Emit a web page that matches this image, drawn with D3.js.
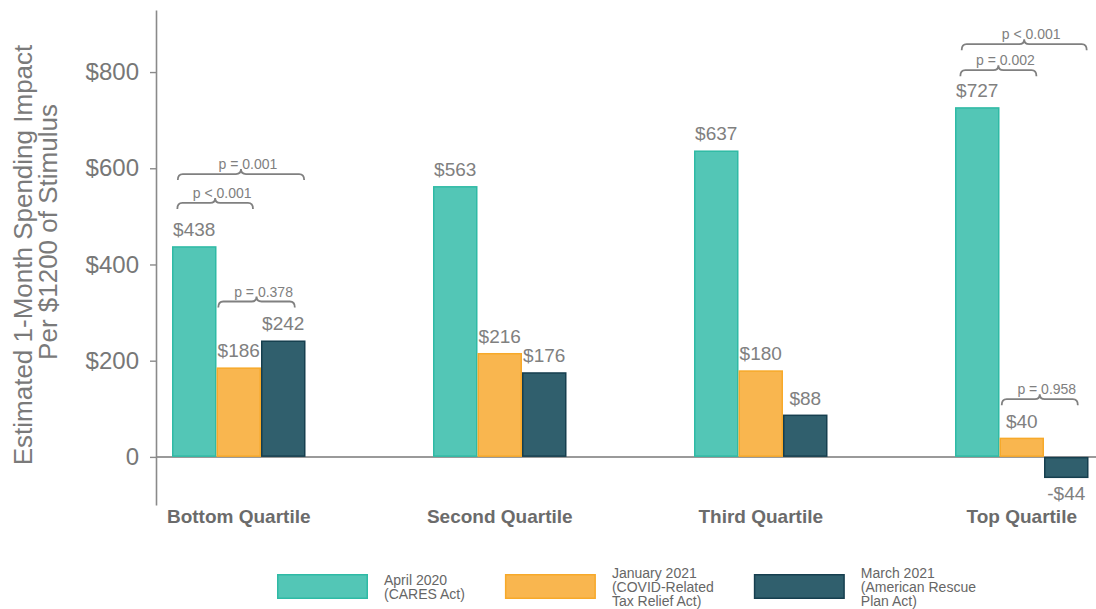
<!DOCTYPE html>
<html>
<head>
<meta charset="utf-8">
<script src="https://cdn.jsdelivr.net/npm/d3@7"></script>
<style>
  html, body { margin: 0; padding: 0; background: #fff; }
  svg { display: block; font-family: "Liberation Sans", Arial, Helvetica, sans-serif; }
</style>
</head>
<body>
<svg id="chart" width="1096" height="609"></svg>
<script>
// ---- data ----
const categories = ["Bottom Quartile", "Second Quartile", "Third Quartile", "Top Quartile"];
const seriesNames = ["April 2020 (CARES Act)", "January 2021 (COVID-Related Tax Relief Act)", "March 2021 (American Rescue Plan Act)"];
const april2020 = [438, 563, 637, 727];
const january2021 = [186, 216, 180, 40];
const march2021 = [242, 176, 88, -44];
const yTicks = [0, 200, 400, 600, 800];
const legendLines = [["April 2020", "(CARES Act)"], ["January 2021", "(COVID-Related", "Tax Relief Act)"], ["March 2021", "(American Rescue", "Plan Act)"]];
// significance brackets: category, start/end in bar units within the group, height in $ units, label
const bracketCats = ["Bottom Quartile", "Bottom Quartile", "Bottom Quartile", "Top Quartile", "Top Quartile", "Top Quartile"];
const bracketFrom = [0.12, 0.13, 1.04, 0.12, 0.15, 1.05];
const bracketTo = [1.82, 2.97, 2.76, 1.83, 2.96, 2.76];
const bracketLevel = [528, 588, 323, 804, 858, 120];
const bracketLabels = ["p < 0.001", "p = 0.001", "p = 0.378", "p = 0.002", "p < 0.001", "p = 0.958"];

const seriesValues = [april2020, january2021, march2021];
const fills = ["#53c6b6", "#f9b64f", "#305f6d"];
const strokes = ["#2fbaa5", "#f7a92a", "#163f4f"];

const svg = d3.select("#chart");

// ---- scales ----
const y = d3.scaleLinear().domain([-100, 929]).range([505, 10]);
const x = d3.scalePoint().domain(categories).range([238.75, 1021.75]);
const groupWidth = 133.5;
const xInner = d3.scaleBand().domain(d3.range(seriesNames.length)).range([-groupWidth / 2, groupWidth / 2]).padding(0);
const bw = xInner.bandwidth();

// zero line
svg.append("line")
  .attr("x1", 156).attr("x2", 1096)
  .attr("y1", y(0)).attr("y2", y(0))
  .attr("stroke", "#9a9a9a").attr("stroke-width", 2);

// y axis
const yAxis = d3.axisLeft(y).tickValues(yTicks)
  .tickFormat(d => d === 0 ? "0" : "$" + d)
  .tickSize(6).tickSizeOuter(0).tickPadding(11);
const gy = svg.append("g").attr("transform", "translate(156,0)").call(yAxis);
gy.select(".domain").attr("stroke", "#8a8a8a").attr("stroke-width", 1.6);
gy.selectAll(".tick line").attr("stroke", "#8a8a8a").attr("stroke-width", 1.4);
gy.selectAll(".tick text").attr("fill", "#777").style("font-size", "24px")
  .style("font-family", "'Liberation Sans', Arial, sans-serif");

// y title (two lines)
svg.append("text")
  .attr("transform", `translate(32,255) rotate(-90)`)
  .attr("text-anchor", "middle").attr("fill", "#7a7a7a").style("font-size", "26px")
  .text("Estimated 1-Month Spending Impact");
svg.append("text")
  .attr("transform", `translate(57,232) rotate(-90)`)
  .attr("text-anchor", "middle").attr("fill", "#7a7a7a").style("font-size", "26px")
  .text("Per $1200 of Stimulus");

// bars
const barData = [];
categories.forEach((c, ci) => {
  seriesValues.forEach((vals, si) => {
    barData.push({ cat: c, s: si, v: vals[ci] });
  });
});

const gBars = svg.append("g");
gBars.selectAll("rect").data(barData).enter().append("rect")
  .attr("x", d => x(d.cat) + xInner(d.s) + 0.75)
  .attr("width", bw - 1.5)
  .attr("y", d => Math.min(y(d.v), y(0)) + 0.75)
  .attr("height", d => Math.max(0, Math.abs(y(d.v) - y(0)) - 1.5))
  .attr("fill", d => fills[d.s])
  .attr("stroke", d => strokes[d.s])
  .attr("stroke-width", 1.5);

// value labels
gBars.selectAll("text.val").data(barData).enter().append("text")
  .attr("class", "val")
  .attr("x", d => x(d.cat) + xInner(d.s) + bw / 2)
  .attr("y", d => d.v >= 0 ? y(d.v) - 10 : y(d.v) + 22)
  .attr("text-anchor", "middle")
  .attr("fill", "#808080").style("font-size", "19px")
  .text(d => (d.v < 0 ? "-$" : "$") + Math.abs(d.v));

// category labels
svg.selectAll("text.cat").data(categories).enter().append("text")
  .attr("class", "cat")
  .attr("x", d => x(d)).attr("y", 523)
  .attr("text-anchor", "middle").attr("fill", "#6b6b6b")
  .style("font-size", "19px").style("font-weight", "bold")
  .text(d => d);

// brackets
const gBr = svg.append("g");
bracketLabels.forEach((lab, i) => {
  const g0 = x(bracketCats[i]) - groupWidth / 2;
  const x1 = g0 + bracketFrom[i] * bw;
  const x2 = g0 + bracketTo[i] * bw;
  const yy = y(bracketLevel[i]);
  const xm = (x1 + x2) / 2;
  const tip = 6, peak = 5, r = 5;
  const p = d3.path();
  p.moveTo(x1, yy + tip);
  p.quadraticCurveTo(x1, yy, x1 + r, yy);
  p.lineTo(xm - r, yy);
  p.quadraticCurveTo(xm, yy, xm, yy - peak);
  p.quadraticCurveTo(xm, yy, xm + r, yy);
  p.lineTo(x2 - r, yy);
  p.quadraticCurveTo(x2, yy, x2, yy + tip);
  gBr.append("path").attr("d", p.toString())
    .attr("fill", "none").attr("stroke", "#808080").attr("stroke-width", 1.8);
  gBr.append("text")
    .attr("x", xm + 7).attr("y", yy - peak)
    .attr("text-anchor", "middle").attr("fill", "#808080").style("font-size", "14px")
    .text(lab);
});

// legend
const gLeg = svg.append("g");
let lx = 277;
const boxW = 91, boxH = 25, boxY = 574, textGap = 16, itemGap = 40, lineH = 14, legCenter = 587;
legendLines.forEach((lines, i) => {
  gLeg.append("rect")
    .attr("x", lx + 0.75).attr("y", boxY + 0.75)
    .attr("width", boxW - 1.5).attr("height", boxH - 1.5)
    .attr("fill", fills[i]).attr("stroke", strokes[i]).attr("stroke-width", 1.5);
  const t = gLeg.append("text").attr("fill", "#666").style("font-size", "14px");
  const first = legCenter - (lines.length - 1) * lineH / 2 + 5;
  lines.forEach((ln, k) => {
    t.append("tspan").attr("x", lx + boxW + textGap).attr("y", first + k * lineH).text(ln);
  });
  const w = t.node().getBBox().width;
  lx = lx + boxW + textGap + w + itemGap;
});
</script>
</body>
</html>
